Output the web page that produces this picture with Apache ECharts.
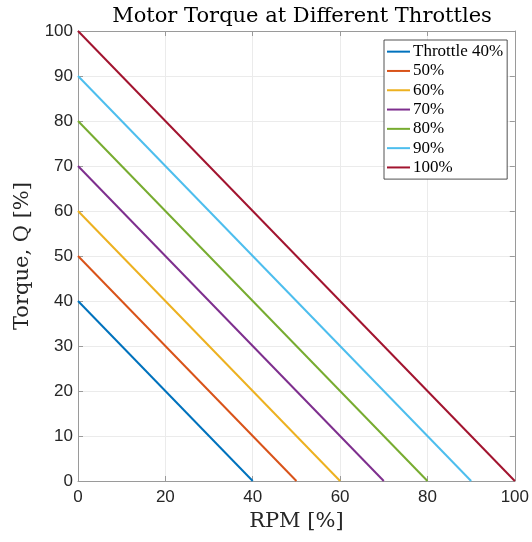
<!DOCTYPE html>
<html>
<head>
<meta charset="utf-8">
<script src="https://cdn.jsdelivr.net/npm/echarts@6/dist/echarts.min.js"></script>
<style>
  html, body { margin: 0; padding: 0; background: #fff; }
  #chart { width: 532px; height: 542px; }
</style>
</head>
<body>
<div id="chart"></div>
<script>
// throttle levels (%) -> each line runs from (0, t) down to (t, 0)
const throttles = [40, 50, 60, 70, 80, 90, 100]
const seriesNames = ['Throttle 40%', '50%', '60%', '70%', '80%', '90%', '100%']
const lineColors = ['#0072BD', '#D95319', '#EDB120', '#7E2F8E', '#77AC30', '#4DBEEE', '#A2142F']

const titleFont = '"DejaVu Serif", "Liberation Serif", serif'
const legendFont = '"Liberation Serif", "DejaVu Serif", serif'
const sansFont = '"Liberation Sans", Arial, sans-serif'
const axisGray = '#9a9a9a'

const chart = echarts.init(document.getElementById('chart'))

// shared axis look
const baseAxis = {
  type: 'value',
  min: 0,
  max: 100,
  axisLine: { show: true, onZero: false, lineStyle: { color: axisGray, width: 1 } },
  axisTick: { show: true, inside: true, length: 5, lineStyle: { color: axisGray } },
}

const option = {
  backgroundColor: '#fff',
  animation: false,
  title: {
    text: 'Motor Torque at Different Throttles',
    left: 297,
    textAlign: 'center',
    top: 1,
    textStyle: { fontFamily: titleFont, fontSize: 21, fontWeight: 'normal', color: '#000' },
  },
  legend: {
    orient: 'vertical',
    left: 384,
    top: 40,
    data: seriesNames,
    icon: 'rect',
    itemWidth: 23,
    itemHeight: 2,
    itemGap: 0,
    padding: [2, 4, 2, 3],
    backgroundColor: '#fff',
    borderColor: '#262626',
    borderWidth: 0.8,
    borderRadius: 0,
    textStyle: { fontFamily: legendFont, fontSize: 17, color: '#000', lineHeight: 19.3, padding: [0, 0, 0, -2] },
  },
  grid: { left: 78, right: 15, top: 31, bottom: 61 },
  xAxis: [
    {
      ...baseAxis,
      interval: 20,
      position: 'bottom',
      name: 'RPM [%]',
      nameLocation: 'middle',
      nameGap: 30,
      nameTextStyle: { fontFamily: titleFont, fontSize: 21, color: '#262626' },
      axisLabel: { fontFamily: sansFont, fontSize: 17, color: '#262626', margin: 8 },
      splitLine: { show: true, lineStyle: { color: '#ebebeb', width: 1 } },
    },
    {
      ...baseAxis,
      interval: 20,
      position: 'top',
      axisLabel: { show: false },
      splitLine: { show: false },
    },
  ],
  yAxis: [
    {
      ...baseAxis,
      interval: 10,
      position: 'left',
      name: 'Torque, Q [%]',
      nameLocation: 'middle',
      nameGap: 45,
      nameTextStyle: { fontFamily: titleFont, fontSize: 21, color: '#262626' },
      axisLabel: { fontFamily: sansFont, fontSize: 17, color: '#262626', margin: 5 },
      splitLine: { show: true, lineStyle: { color: '#ebebeb', width: 1 } },
    },
    {
      ...baseAxis,
      interval: 10,
      position: 'right',
      axisLabel: { show: false },
      splitLine: { show: false },
    },
  ],
  series: throttles.map((t, i) => ({
    name: seriesNames[i],
    type: 'line',
    xAxisIndex: 0,
    yAxisIndex: 0,
    symbol: 'none',
    color: lineColors[i],
    lineStyle: { width: 2, color: lineColors[i] },
    data: [[0, t], [t, 0]],
  })),
}

chart.setOption(option)
</script>
</body>
</html>
